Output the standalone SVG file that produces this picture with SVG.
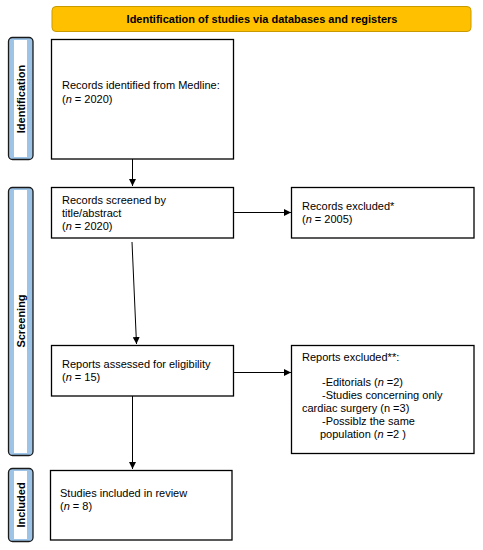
<svg xmlns="http://www.w3.org/2000/svg" width="483" height="550" viewBox="0 0 483 550">
<defs>
<style>
.t{font-family:"Liberation Sans",Arial,sans-serif;font-size:11px;fill:#000}
.b{font-weight:bold}
.box{fill:#fff;stroke:#000;stroke-width:1.3}
.bar{fill:#9DC3E6;stroke:#1a1a1a;stroke-width:1.3}
.barin{fill:#fff}
.ln{stroke:#000;stroke-width:1;fill:none;marker-end:url(#ah)}
</style>
<marker id="ah" viewBox="0 0 10 10" refX="10" refY="5" markerWidth="7" markerHeight="7" markerUnits="userSpaceOnUse" orient="auto">
<path d="M0,0L10,5L0,10z" fill="#000"/>
</marker>
</defs>
<rect width="483" height="550" fill="#fff"/>
<g id="banner">
<rect x="52" y="6.5" width="419" height="25" rx="4" fill="#FFC000" stroke="#C99A00" stroke-width="1"/>
<text class="t b" x="262" y="23" text-anchor="middle">Identification of studies via databases and registers</text>
</g>
<g id="bar-identification">
<rect class="bar" x="8.5" y="37.5" width="24.5" height="122" rx="4"/>
<rect class="barin" x="14" y="40" width="13" height="117"/>
<text class="t b" transform="translate(25,99) rotate(-90)" text-anchor="middle">Identification</text>
</g>
<g id="bar-screening">
<rect class="bar" x="8.5" y="187.5" width="24.5" height="268" rx="4"/>
<rect class="barin" x="14" y="190" width="13" height="263"/>
<text class="t b" transform="translate(25,321) rotate(-90)" text-anchor="middle">Screening</text>
</g>
<g id="bar-included">
<rect class="bar" x="8.5" y="468.5" width="24.5" height="73" rx="4"/>
<rect class="barin" x="14" y="471" width="13" height="68"/>
<text class="t b" transform="translate(25,505) rotate(-90)" text-anchor="middle">Included</text>
</g>
<g id="identified">
<rect class="box" x="51.5" y="39.5" width="182" height="119.5"/>
<text class="t" x="62" y="89">Records identified from Medline:</text>
<text class="t" x="62" y="103">(<tspan font-style="italic">n</tspan> = 2020)</text>
</g>
<g id="screened">
<rect class="box" x="51.5" y="187.5" width="182" height="50.5"/>
<text class="t" x="62" y="204">Records screened by</text>
<text class="t" x="62" y="217">title/abstract</text>
<text class="t" x="62" y="230">(<tspan font-style="italic">n</tspan> = 2020)</text>
</g>
<g id="records-excluded">
<rect class="box" x="291.5" y="187.5" width="182.5" height="50.5"/>
<text class="t" x="302" y="210">Records excluded*</text>
<text class="t" x="302" y="223">(<tspan font-style="italic">n</tspan> = 2005)</text>
</g>
<g id="assessed">
<rect class="box" x="51.5" y="345.5" width="182" height="50.5"/>
<text class="t" x="62" y="368">Reports assessed for eligibility</text>
<text class="t" x="62" y="381">(<tspan font-style="italic">n</tspan> = 15)</text>
</g>
<g id="reports-excluded">
<rect class="box" x="291.5" y="345.5" width="182.5" height="108"/>
<text class="t" x="302" y="361">Reports excluded**:</text>
<text class="t" x="322" y="386">-Editorials (<tspan font-style="italic">n</tspan> =2)</text>
<text class="t" x="322" y="399">-Studies concerning only</text>
<text class="t" x="302" y="412">cardiac surgery (n =3)</text>
<text class="t" x="322" y="425">-Possiblz the same</text>
<text class="t" x="320" y="438">population (<tspan font-style="italic">n</tspan> =2 )</text>
</g>
<g id="included">
<rect class="box" x="50.5" y="470.5" width="181.5" height="69.5"/>
<text class="t" x="60" y="497">Studies included in review</text>
<text class="t" x="60" y="510">(<tspan font-style="italic">n</tspan> = 8)</text>
</g>
<g id="connectors">
<line class="ln" x1="132.5" y1="159" x2="132.5" y2="186"/>
<line class="ln" x1="234" y1="212.5" x2="291" y2="212.5"/>
<line class="ln" x1="132" y1="242" x2="136.5" y2="344"/>
<line class="ln" x1="234" y1="372.5" x2="291" y2="372.5"/>
<line class="ln" x1="132.5" y1="396" x2="132.5" y2="469"/>
</g>
</svg>
